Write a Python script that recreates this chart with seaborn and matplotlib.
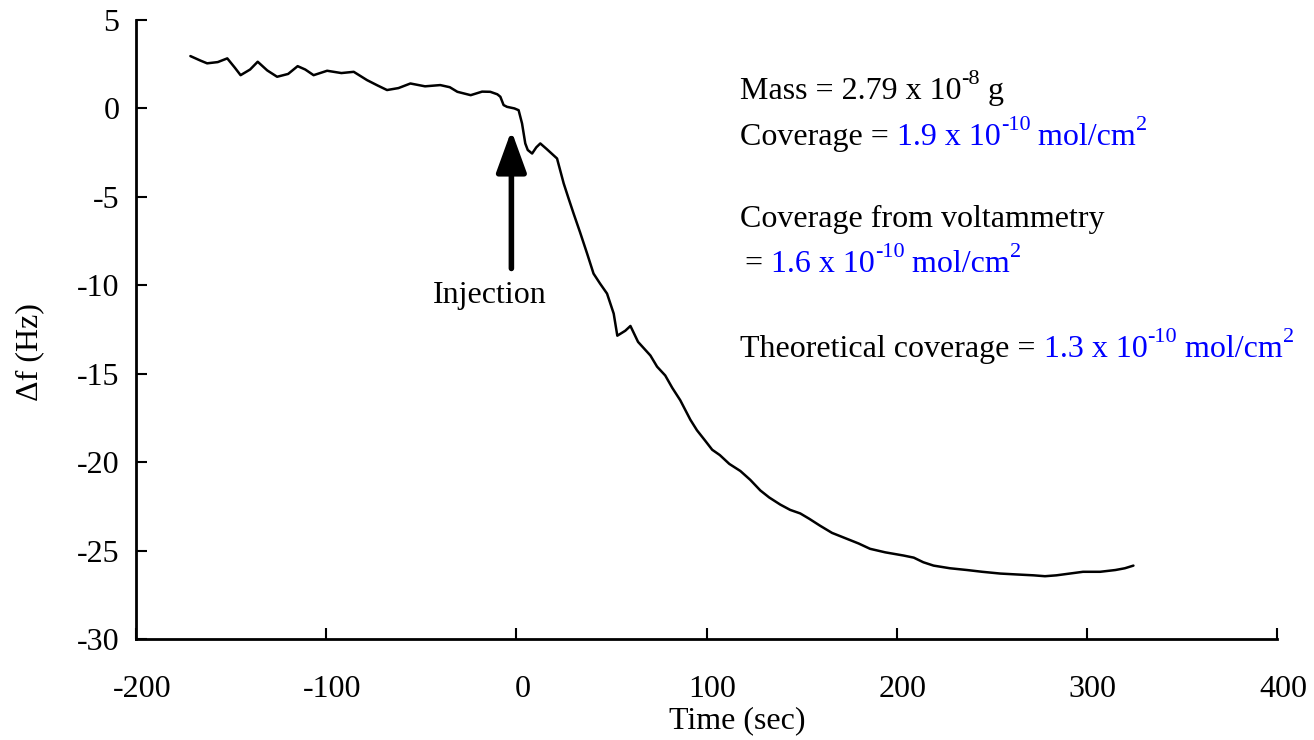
import matplotlib
matplotlib.use("Agg")
import matplotlib.pyplot as plt
from matplotlib.transforms import ScaledTranslation
import seaborn as sns
import pandas as pd

# ---- data ----
time_s = [-171.4, -166, -162.6, -157, -152, -148, -145, -140, -136, -131, -125.8,
          -120, -115, -111, -106.6, -99.5, -92, -85.5, -78.5, -73, -68, -62, -55.7,
          -48, -40, -35, -31, -24, -18, -13.7, -10, -8.4, -6.7, -4.9, -1, 1.2, 3,
          4.7, 6, 8.3, 10.5, 12.6, 16, 21.4, 24.9, 27.5, 30.1, 33.5, 37.2, 40.6,
          44, 47.7, 51.2, 53.1, 57.3, 60, 64, 70.5, 74, 78.3, 82, 86.2, 91.5,
          95, 99.4, 103, 107, 112, 117.8, 123, 128.3, 133, 138.8, 144, 149.3,
          154, 159.8, 166, 173, 180, 186, 194, 203.6, 209, 214, 219.4, 228, 237,
          245, 254.5, 263, 272, 278, 284, 291, 298, 307, 315, 320, 324.5]
delta_f = [2.96, 2.7, 2.55, 2.62, 2.83, 2.3, 1.88, 2.2, 2.64, 2.15, 1.79,
           1.95, 2.39, 2.2, 1.88, 2.13, 2.0, 2.07, 1.6, 1.3, 1.04, 1.15, 1.41,
           1.25, 1.32, 1.2, 0.94, 0.75, 0.95, 0.94, 0.8, 0.66, 0.19, 0.09, 0.0, -0.1, -0.85,
           -1.98, -2.35, -2.55, -2.2, -1.98, -2.3, -2.83, -4.24, -5.1, -5.94, -7.0, -8.2, -9.34,
           -9.9, -10.47, -11.6, -12.85, -12.57, -12.3, -13.2, -13.97, -14.6, -15.1, -15.8, -16.5, -17.6,
           -18.2, -18.8, -19.3, -19.6, -20.1, -20.5, -21.0, -21.6, -22.0, -22.4, -22.7, -22.9,
           -23.2, -23.6, -24.0, -24.3, -24.6, -24.9, -25.1, -25.28, -25.4, -25.66, -25.85, -26.0, -26.1,
           -26.2, -26.3, -26.35, -26.4, -26.45, -26.4, -26.3, -26.2, -26.2, -26.1, -26.0, -25.85]

x_ticks = [-200, -100, 0, 100, 200, 300, 400]
y_ticks = [5, 0, -5, -10, -15, -20, -25, -30]

df = pd.DataFrame({"Time (sec)": time_s, "df": delta_f})

sns.set_theme(style="ticks")
plt.rcParams["font.family"] = ["Liberation Serif", "DejaVu Serif"]
FS = 23
SUP = 16
plt.rcParams["font.size"] = FS

W, H = 1314, 740
fig = plt.figure(figsize=(W / 100, H / 100), dpi=100)
fig.patch.set_facecolor("white")
ax = fig.add_axes([136 / W, 1 - 639 / H, (1277 - 136) / W, (639 - 20) / H])
ax.set_facecolor("white")

sns.lineplot(data=df, x="Time (sec)", y="df", ax=ax, color="black",
             linewidth=1.8, estimator=None, sort=False)

ax.set_xlim(-200, 400)
ax.set_ylim(-30, 5)
ax.set_xticks(x_ticks)
ax.set_yticks(y_ticks)
ax.set_xticklabels([str(v) for v in x_ticks])
ax.set_yticklabels([str(v) for v in y_ticks])
sns.despine(ax=ax)
for s in ["left", "bottom"]:
    ax.spines[s].set_linewidth(2.0)
    ax.spines[s].set_color("black")
ax.tick_params(axis="both", direction="in", length=8, width=1.5, colors="black",
               labelsize=FS, labelcolor="black")
ax.tick_params(axis="y", pad=12)
ax.tick_params(axis="x", pad=26)
ax.grid(False)
for lab in ax.get_xticklabels():
    lab.set_transform(lab.get_transform() + ScaledTranslation(6 / 100, 0, fig.dpi_scale_trans))

ax.set_xlabel("Time (sec)", fontsize=FS, color="black")
ax.set_ylabel("\u0394f (Hz)", fontsize=FS, color="black")
ax.xaxis.set_label_coords((737 - 136) / 1141, (639 - 706) / 619)
ax.yaxis.set_label_coords((44 - 136) / 1141, (639 - 352) / 619)

# injection arrow and label
ax.annotate("", xy=(-2.6, -1.25), xytext=(-2.6, -9.05),
            arrowprops=dict(arrowstyle="-|>,head_length=1.1,head_width=0.4",
                            color="black", lw=4, shrinkA=0, shrinkB=0))
ax.text(-14.2, -11.0, "Injection", ha="center", va="baseline", fontsize=FS, color="black")

# annotation block, built piece by piece in pixel positions
fig.canvas.draw()
renderer = fig.canvas.get_renderer()
BLUE = "#0000FF"


def chain(px, py, pieces):
    x = px
    for txt, color, sup in pieces:
        if sup:
            t = fig.text(x / W, 1 - (py - 15) / H, txt, fontsize=SUP, color=color,
                         ha="left", va="baseline")
        else:
            t = fig.text(x / W, 1 - py / H, txt, fontsize=FS, color=color,
                         ha="left", va="baseline")
        bb = t.get_window_extent(renderer)
        x = bb.x1


chain(740, 99, [("Mass = 2.79 x 10", "black", False), ("-8", "black", True),
                (" g", "black", False)])
chain(740, 145, [("Coverage = ", "black", False), ("1.9 x 10", BLUE, False),
                 ("-10", BLUE, True), (" mol/cm", BLUE, False), ("2", BLUE, True)])
chain(740, 227, [("Coverage from voltammetry", "black", False)])
chain(745, 272, [("= ", "black", False), ("1.6 x 10", BLUE, False),
                 ("-10", BLUE, True), (" mol/cm", BLUE, False), ("2", BLUE, True)])
chain(740, 357, [("Theoretical coverage = ", "black", False), ("1.3 x 10", BLUE, False),
                 ("-10", BLUE, True), (" mol/cm", BLUE, False), ("2", BLUE, True)])

fig.savefig("out.png", dpi=100, facecolor="white")
